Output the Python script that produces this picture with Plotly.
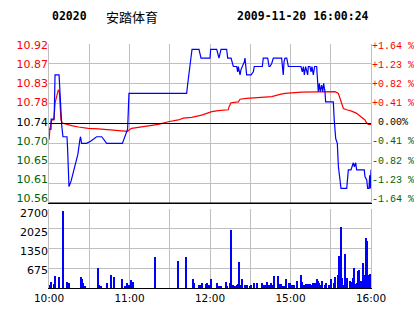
import plotly.graph_objects as go

# ---- data ----
code = "02020"
name = "安踏体育"
stamp = "2009-11-20 16:00:24"
prev_close = 10.74

# minutes since 10:00 on the trading clock (10:00-12:30, 14:30-16:00 -> 0..240)
time_ticks = [0, 30, 60, 90, 120, 150, 180, 210, 240]
time_labels = ["10:00", "", "11:00", "", "12:00", "", "15:00", "", "16:00"]

price_ticks = [10.56, 10.605, 10.65, 10.695, 10.74, 10.785, 10.83, 10.875, 10.92]
price_labels = ["10.56", "10.61", "10.65", "10.70", "10.74", "10.78", "10.83", "10.87", "10.92"]
pct_labels = ["-1.64 %", "-1.23 %", "-0.82 %", "-0.41 %", "\u00a00.00%", "+0.41 %", "+0.82 %", "+1.23 %", "+1.64 %"]
pct_sign = [-1, -1, -1, -1, 0, 1, 1, 1, 1]
vol_ticks = [0, 675, 1350, 2025, 2700]
vol_labels = ["675", "1350", "2025", "2700"]

price_t = [0, 1.5, 1.6, 3.7, 4.0, 4.5, 7.5, 8.5, 9.5, 10.4, 13.4, 13.8, 14.4, 14.9, 16.5, 19, 21.5, 23, 23.5,
           24.3, 28, 31, 35.5, 39.3, 43, 54.7, 56, 58.6, 59.6, 102.6, 103.4, 104.2, 105, 105.8, 106.6, 110.8,
           111.8, 113.3, 120, 120.5, 125, 126.7, 128.2, 132.4, 133.2, 135.7, 136.6, 137.4, 139.9, 140.6,
           141.1, 142.4, 143.1, 144.1, 145.6, 146.1, 146.6, 147.3, 150.6, 152.3, 153.0, 159.0, 159.7, 163.0,
           164.0, 164.7, 166.0, 167.2, 173.4, 173.9, 174.6, 175.2, 175.9, 177.2, 177.9, 178.4, 187.8, 188.8,
           189.6, 190.3, 191.3, 192.1, 192.8, 193.3, 194.5, 195.3, 196, 197, 198, 199.5, 200.3, 200.7, 201.5,
           202.2, 203.2, 204, 204.7, 205.7, 206.2, 211.9, 212.6, 213.2, 213.7, 214.9, 215.7, 216.9, 217.6,
           221.9, 222.6, 223.1, 225.1, 226.1, 226.8, 227.6, 228.6, 229.3, 235.0, 235.5, 236.8, 237.5, 238.5,
           239.0, 239.5, 240]
price_v = [10.727, 10.727, 10.750, 10.750, 10.772, 10.850, 10.850, 10.772, 10.735, 10.710, 10.710, 10.687,
           10.620, 10.597, 10.610, 10.640, 10.670, 10.703, 10.710, 10.695, 10.695, 10.700, 10.710, 10.710,
           10.695, 10.695, 10.705, 10.727, 10.808, 10.808, 10.830, 10.850, 10.876, 10.895, 10.908, 10.908,
           10.908, 10.888, 10.888, 10.908, 10.908, 10.888, 10.908, 10.908, 10.888, 10.888, 10.876, 10.869,
           10.869, 10.857, 10.869, 10.850, 10.862, 10.869, 10.880, 10.888, 10.869, 10.850, 10.850, 10.857,
           10.869, 10.869, 10.888, 10.888, 10.869, 10.869, 10.876, 10.888, 10.888, 10.869, 10.850, 10.880,
           10.888, 10.888, 10.876, 10.869, 10.869, 10.857, 10.869, 10.850, 10.869, 10.857, 10.850, 10.869,
           10.869, 10.857, 10.869, 10.850, 10.869, 10.869, 10.838, 10.812, 10.831, 10.812, 10.827, 10.812,
           10.831, 10.812, 10.789, 10.789, 10.748, 10.729, 10.706, 10.695, 10.642, 10.612, 10.593, 10.593,
           10.612, 10.635, 10.635, 10.642, 10.651, 10.642, 10.651, 10.635, 10.635, 10.620, 10.612, 10.593,
           10.593, 10.623, 10.593, 10.635]

avg_t = [0, 0.75, 2, 3.7, 4.5, 5.7, 6.9, 7.7, 8.2, 8.9, 9.9, 11.9, 16.9, 21.9, 29.3, 36.8, 44.2, 54.2, 58.6,
         60.4, 61.6, 64.1, 71.6, 81.5, 88.9, 96.4, 100.1, 106.3, 113.8, 116.3, 121.3, 126.2, 133.6, 134.2,
         135.7, 141.1, 142.4, 147.3, 158.5, 166, 172.2, 175.9, 188.3, 200.7, 213.2, 215.7, 216.9, 218.2,
         219.4, 221.9, 225.6, 229.3, 231.8, 234.3, 235.5, 236.8, 238, 240]
avg_v = [10.703, 10.729, 10.748, 10.748, 10.786, 10.805, 10.816, 10.812, 10.780, 10.748, 10.741, 10.739,
         10.735, 10.732, 10.729, 10.728, 10.726, 10.722, 10.722, 10.727, 10.729, 10.730, 10.734, 10.738,
         10.744, 10.748, 10.752, 10.754, 10.759, 10.762, 10.767, 10.769, 10.771, 10.778, 10.787, 10.789,
         10.795, 10.797, 10.799, 10.801, 10.806, 10.808, 10.811, 10.812, 10.812, 10.808, 10.797, 10.786,
         10.774, 10.771, 10.768, 10.763, 10.757, 10.752, 10.748, 10.741, 10.738, 10.738]

vol_t = [0, 0.7, 1.5, 4, 4.7, 7.5, 10.7, 13.7, 15.2, 23.9, 24.8, 25.6, 26.8, 36.8, 37.5, 39, 43.5, 46.4, 48.7,
         54.7, 56.9, 57.6, 58.4, 59.9, 60.6, 61.4, 62.9, 79, 96.4, 102.4, 107.6, 108.3, 112, 113.5, 114.3,
         117.0, 117.8, 119.3, 120.0, 120.7, 125.5, 126.7, 128.2, 131.9, 132.7, 134.9, 135.9, 137.1, 138.6,
         139.9, 141.1, 141.9, 142.6, 144.1, 146.3, 147.1, 147.8, 150.1, 150.8, 153.0, 155.3, 159.0, 159.8,
         161.2, 162.0, 162.7, 164.2, 165.7, 167.2, 168.0, 170.9, 171.7, 173.2, 174.7, 176.2, 176.9, 179.1,
         179.9, 181.4, 182.1, 182.9, 185.1, 188.1, 188.8, 190.3, 191.1, 191.8, 193.3, 194.0, 194.8, 196.3,
         197.0, 198.5, 200.0, 200.7, 201.5, 203.0, 203.7, 206.0, 206.7, 209.0, 209.7, 210.4, 212.7, 213.4,
         215.6, 216.4, 217.1, 217.9, 218.6, 220.1, 220.9, 221.6, 222.4, 224.6, 225.3, 226.8, 227.6, 228.3,
         229.1, 229.8, 230.6, 231.3, 232.1, 232.8, 233.5, 234.3, 235.0, 235.8, 236.5, 237.3, 238.0, 238.8,
         239.5]
vol_v = [114, 114, 205, 137, 422, 388, 2645, 205, 182, 388, 319, 182, 68, 695, 114, 80, 182, 456, 388,
         319, 68, 68, 182, 114, 114, 285, 217, 1072, 935, 1072, 319, 182, 114, 114, 182,
         148, 182, 114, 114, 319, 182, 80, 80, 217, 80, 182, 1995, 114, 80,
         114, 148, 900, 114, 319, 114, 80, 114, 80, 114, 182, 182, 182, 114,
         114, 114, 217, 114, 182, 114, 422, 422, 148, 148, 80, 80, 319, 182,
         182, 114, 114, 114, 251, 456, 217, 114, 114, 148, 148, 148, 148, 114,
         182, 182, 319, 251, 182, 114, 251, 114, 182, 114, 114, 319, 182, 388,
         456, 1106, 217, 2098, 353, 114, 1174, 114, 353, 251, 217, 353, 695, 80,
         148, 182, 593, 627, 182, 251, 217, 866, 456, 114, 1721, 1619, 114, 456,
         490]

RED = "#ff0000"
GREEN = "#006400"
BLUE = "#0000ff"
GRID = "#c0c0c0"

def colored(labels, signs):
    out = []
    for lab, s in zip(labels, signs):
        c = RED if s > 0 else (GREEN if s < 0 else "#000000")
        out.append(f'<span style="color:{c}">{lab}</span>')
    return out

price_sign = [(-1 if v < prev_close - 1e-9 else (1 if v > prev_close + 1e-9 else 0)) for v in price_ticks]
label_slots = list(range(len(price_labels)))
vol_slots = list(range(1, len(vol_labels) + 1))

fig = go.Figure()
fig.add_trace(go.Scatter(x=avg_t, y=avg_v, mode="lines", line=dict(color=RED, width=1.2),
                         xaxis="x", yaxis="y", hoverinfo="skip", showlegend=False))
fig.add_trace(go.Scatter(x=price_t, y=price_v, mode="lines", line=dict(color=BLUE, width=1.2),
                         xaxis="x", yaxis="y", hoverinfo="skip", showlegend=False))
fig.add_trace(go.Bar(x=vol_t, y=vol_v, width=0.8, marker=dict(color=BLUE, line=dict(width=0)),
                     xaxis="x2", yaxis="y3", hoverinfo="skip", showlegend=False))
# invisible carriers for the label axes
for ya, xa in (("y2", "x"), ("y4", "x"), ("y5", "x2")):
    fig.add_trace(go.Scatter(x=[120], y=[1], mode="markers", marker=dict(opacity=0),
                             xaxis=xa, yaxis=ya, hoverinfo="skip", showlegend=False))

lab_range = [-0.2345, 8.052]
fig.update_layout(
    template="none",
    width=414, height=314,
    margin=dict(l=49, r=43, t=44, b=26, autoexpand=False),
    paper_bgcolor="white", plot_bgcolor="white",
    font=dict(family="DejaVu Sans", size=11, color="black"),
    bargap=0,
    xaxis=dict(domain=[0, 1], anchor="y", range=[0, 240], tickvals=time_ticks, showticklabels=False,
               showgrid=True, gridcolor=GRID, gridwidth=1, zeroline=False, automargin=False,
               showline=True, linecolor="black", linewidth=1, ticks=""),
    yaxis=dict(domain=[0.3484, 1], anchor="x", range=[price_ticks[0], price_ticks[-1]],
               tickvals=price_ticks, showticklabels=False,
               showgrid=True, gridcolor=GRID, zeroline=False, showline=True, linecolor=GRID,
               mirror=True, ticks="", automargin=False),
    yaxis2=dict(overlaying="y", side="left", anchor="x", range=lab_range,
                tickvals=label_slots, ticktext=colored(price_labels, price_sign), automargin=False,
                showgrid=False, zeroline=False, ticks="", showline=False,
                tickfont=dict(family="DejaVu Sans", size=11)),
    yaxis4=dict(overlaying="y", side="right", anchor="x", range=lab_range,
                tickvals=label_slots, ticktext=colored(pct_labels, pct_sign), automargin=False,
                showgrid=False, zeroline=False, ticks="", showline=False,
                tickfont=dict(family="Liberation Mono", size=10)),
    xaxis2=dict(domain=[0, 1], anchor="y3", range=[0, 240], tickvals=time_ticks, ticktext=time_labels,
                showgrid=True, gridcolor=GRID, zeroline=False, showline=True, linecolor="black",
                linewidth=1, ticks="", automargin=False, tickfont=dict(family="DejaVu Sans", size=10.5)),
    yaxis3=dict(domain=[0, 0.3238], anchor="x2", range=[0, 2700], tickvals=vol_ticks, showticklabels=False,
                showgrid=True, gridcolor=GRID, zeroline=False, showline=True, linecolor=GRID,
                mirror=True, ticks="", automargin=False),
    yaxis5=dict(overlaying="y3", side="left", anchor="x2", range=[0.0424, 4.239],
                tickvals=vol_slots, ticktext=vol_labels, automargin=False,
                showgrid=False, zeroline=False, ticks="", showline=False,
                tickfont=dict(family="DejaVu Sans", size=11)),
    shapes=[
        dict(type="line", xref="x domain", yref="y", x0=0, x1=1, y0=prev_close, y1=prev_close,
             line=dict(color="black", width=1)),
        dict(type="line", xref="x domain", yref="y", x0=0, x1=1, y0=price_ticks[0], y1=price_ticks[0],
             line=dict(color="black", width=1.2)),
    ],
    annotations=[
        dict(text=f"<b>{code}</b>", xref="paper", yref="paper", x=(50 - 49) / 322, y=1 + (44 - 16) / 244,
             xanchor="left", yanchor="middle", showarrow=False,
             font=dict(family="DejaVu Sans Mono", size=11.5, color="black")),
        dict(text=name, xref="paper", yref="paper", x=(104 - 49) / 322, y=1 + (44 - 16) / 244,
             xanchor="left", yanchor="middle", showarrow=False,
             font=dict(family="Noto Sans CJK SC", size=13, color="black")),
        dict(text=f"<b>{stamp}</b>", xref="paper", yref="paper", x=(371 - 49) / 322, y=1 + (44 - 16) / 244,
             xanchor="right", yanchor="middle", showarrow=False,
             font=dict(family="DejaVu Sans Mono", size=11.5, color="black")),
    ],
)

fig.write_html("out.html")
